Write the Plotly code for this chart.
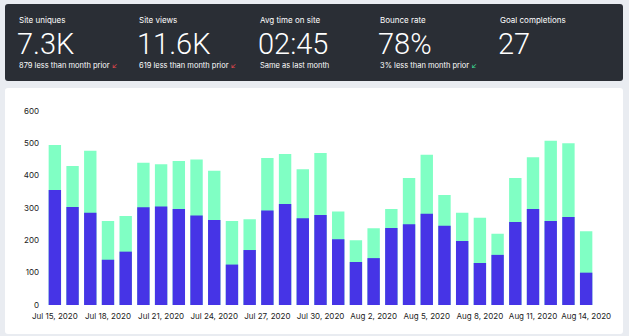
import plotly.graph_objects as go
import pandas as pd

dates = [d.strftime("%Y-%m-%d") for d in pd.date_range("2020-07-15", "2020-08-14", freq="D")]
uniques = [356, 303, 285, 140, 165, 302, 305, 297, 277, 263, 125, 170, 292, 312, 268, 278,
           203, 133, 145, 238, 250, 282, 245, 198, 130, 155, 257, 297, 260, 272, 100]
views = [495, 430, 477, 260, 275, 440, 435, 445, 450, 415, 260, 265, 455, 467, 420, 470,
         289, 200, 237, 297, 393, 465, 340, 285, 270, 220, 393, 457, 508, 500, 228]

stat_labels = ["Site uniques", "Site views", "Avg time on site", "Bounce rate", "Goal completions"]
stat_values = ["7.3K", "11.6K", "02:45", "78%", "27"]
stat_notes = ["879 less than month prior", "619 less than month prior", "Same as last month",
              "3% less than month prior", ""]
stat_arrows = ["#e5484d", "#e5484d", None, "#3ddc97", None]

W_FIG, H_FIG = 629, 336
L, R, T, B = 46, 34, 111, 31
PW = W_FIG - L - R
PH = H_FIG - T - B
BOT = H_FIG - B


def px(x):
    return (x - L) / PW


def py(y):
    return (BOT - y) / PH


def rrect(x0, y0, x1, y1, r):
    rx = r / PW
    ry = r / PH
    a, b, c, d = px(x0), px(x1), py(y0), py(y1)  # c top, d bottom
    return (f"M{a+rx},{c} L{b-rx},{c} Q{b},{c} {b},{c-ry} L{b},{d+ry} Q{b},{d} {b-rx},{d} "
            f"L{a+rx},{d} Q{a},{d} {a},{d+ry} L{a},{c-ry} Q{a},{c} {a+rx},{c} Z")


fig = go.Figure()
fig.add_trace(go.Bar(x=dates, y=views, name="Site views", marker=dict(color="#80ffc4", line=dict(width=0))))
fig.add_trace(go.Bar(x=dates, y=uniques, name="Site uniques", marker=dict(color="#4634e6", line=dict(width=0))))

shapes = [
    dict(type="path", path=rrect(5, 4, 623, 81, 3), xref="paper", yref="paper",
         fillcolor="#2a2e35", line=dict(width=0), layer="below"),
    dict(type="path", path=rrect(5, 88, 623, 334, 3), xref="paper", yref="paper",
         fillcolor="#ffffff", line=dict(width=0), layer="below"),
]

annotations = []
FONT = "Inter"
BIG = "Roboto"
for i in range(len(stat_labels)):
    x0 = 17 + 120.3 * i
    annotations.append(dict(x=px(x0), y=py(20), xref="paper", yref="paper", xanchor="left",
                            yanchor="middle", text=stat_labels[i], showarrow=False,
                            font=dict(family=FONT, size=8, color="#ffffff")))
    annotations.append(dict(x=px(x0 - 2), y=py(44), xref="paper", yref="paper", xanchor="left",
                            yanchor="middle", text=stat_values[i], showarrow=False,
                            font=dict(family=BIG, size=29, color="#ffffff", weight=300)))
    if stat_notes[i]:
        t = stat_notes[i]
        if stat_arrows[i]:
            t += f' <span style="color:{stat_arrows[i]}">↙</span>'
        annotations.append(dict(x=px(x0), y=py(66), xref="paper", yref="paper", xanchor="left",
                                yanchor="middle", text=t, showarrow=False,
                                font=dict(family=FONT, size=7.5, color="#ffffff")))

fig.update_layout(
    width=W_FIG, height=H_FIG,
    margin=dict(l=L, r=R, t=T, b=B, pad=0),
    paper_bgcolor="#e9ecf1",
    plot_bgcolor="rgba(0,0,0,0)",
    barmode="overlay",
    bargap=0.3,
    showlegend=False,
    shapes=shapes,
    annotations=annotations,
    font=dict(family=FONT, size=8, color="#222222"),
)
fig.update_xaxes(type="date", range=["2020-07-14 12:00", "2020-08-14 12:00"],
                 tick0="2020-07-15", dtick=3 * 86400000, tickformat="%b %-d, %Y",
                 tickangle=0, showgrid=False, zeroline=False, showline=False, ticks="",
                 tickfont=dict(size=8, color="#222222"), ticklabelstandoff=5)
fig.update_yaxes(range=[0, 600], dtick=100, showgrid=False, zeroline=False, showline=False,
                 ticks="", tickfont=dict(size=8, color="#222222"), ticklabelstandoff=6)

fig.write_html("out.html")
